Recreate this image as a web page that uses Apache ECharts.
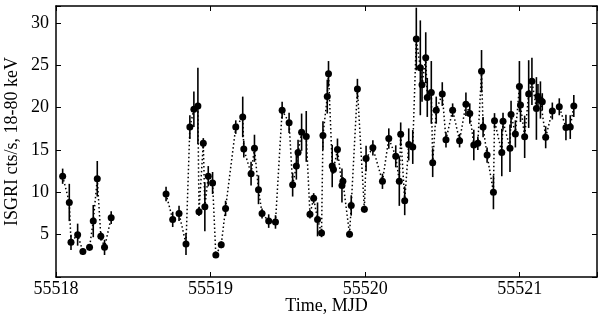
<!DOCTYPE html>
<html>
<head>
<meta charset="utf-8">
<script src="https://cdn.jsdelivr.net/npm/echarts@6/dist/echarts.min.js"></script>
<style>
  html, body { margin: 0; padding: 0; background: #fff; }
  #chart { width: 600px; height: 320px; }
</style>
</head>
<body>
<div id="chart"></div>
<script>
// ISGRI light curve, 18-80 keV
var mjd = [
  55518.043, 55518.086, 55518.097, 55518.140, 55518.174, 55518.217, 55518.241, 55518.267, 55518.290, 55518.314, 55518.357,
  55518.712, 55518.755, 55518.796, 55518.841, 55518.866, 55518.892, 55518.918, 55518.925, 55518.953, 55518.963,
  55518.985, 55519.013, 55519.034, 55519.069, 55519.097, 55519.163, 55519.208, 55519.215, 55519.262, 55519.284,
  55519.310, 55519.333, 55519.376, 55519.420, 55519.463, 55519.508, 55519.531, 55519.555, 55519.566, 55519.589,
  55519.619, 55519.643, 55519.667, 55519.692, 55519.718, 55519.727, 55519.755, 55519.763, 55519.787, 55519.795,
  55519.821, 55519.850, 55519.856, 55519.899, 55519.910, 55519.950, 55519.995, 55520.006, 55520.050, 55520.112,
  55520.153, 55520.198, 55520.221, 55520.230, 55520.256, 55520.282, 55520.308, 55520.331, 55520.357, 55520.368,
  55520.392, 55520.402, 55520.428, 55520.437, 55520.460, 55520.499, 55520.523, 55520.566, 55520.611, 55520.652,
  55520.677, 55520.703, 55520.729, 55520.753, 55520.763, 55520.789, 55520.830, 55520.837, 55520.884, 55520.892,
  55520.937, 55520.944, 55520.972, 55520.998, 55521.005, 55521.032, 55521.058, 55521.079, 55521.108, 55521.118,
  55521.134, 55521.146, 55521.168, 55521.211, 55521.256, 55521.299, 55521.327, 55521.350, 55521.560
];
var rate = [
  11.9, 8.8, 4.1, 5.0, 3.0, 3.5, 6.6, 11.6, 4.8, 3.5, 7.0,
  9.8, 6.8, 7.5, 3.9, 17.7, 19.8, 20.2, 7.7, 15.8, 8.3,
  11.9, 11.1, 2.6, 3.8, 8.1, 17.7, 18.9, 15.1, 12.2, 15.2,
  10.3, 7.5, 6.6, 6.5, 19.7, 18.2, 10.9, 13.1, 14.7, 17.1,
  16.6, 7.4, 9.3, 6.8, 5.2, 16.7, 21.3, 24.0, 13.1, 12.7,
  15.05, 10.8, 11.3, 5.05, 8.45, 22.2, 8.0, 14.0, 15.25, 11.3,
  16.35, 14.25, 11.3, 16.85, 9.0, 15.65, 15.35, 28.1, 24.7, 22.7,
  25.9, 21.2, 21.8, 13.5, 19.7, 21.6, 16.2, 19.7, 16.1, 20.4,
  19.3, 15.6, 15.8, 24.3, 17.7, 14.4, 10.0, 18.45, 14.7, 18.4,
  15.2, 19.2, 16.9, 22.5, 20.3, 16.55, 21.6, 23.1, 19.9, 21.3,
  20.9, 20.7, 16.5, 19.6, 20.1, 17.65, 17.7, 20.2, 20.0
];
var rateErr = [
  0.9, 2.2, 0.9, 1.3, 0.4, 0.4, 1.9, 2.1, 0.5, 0.9, 0.75,
  0.85, 0.9, 0.9, 1.3, 1.4, 2.1, 4.5, 0.5, 0.6, 2.9,
  1.2, 1.3, 0.3, 0.4, 0.9, 0.8, 2.4, 1.0, 1.4, 1.6,
  1.7, 0.6, 0.8, 0.8, 1.0, 1.2, 1.4, 1.6, 1.5, 2.2,
  3.0, 0.5, 0.6, 2.0, 0.5, 1.7, 2.0, 1.5, 2.5, 0.5,
  1.3, 2.0, 0.5, 0.4, 1.2, 1.2, 0.4, 1.5, 0.9, 0.9,
  1.2, 1.3, 2.9, 1.4, 1.7, 1.9, 2.0, 3.7, 5.6, 2.0,
  3.0, 2.3, 3.7, 1.7, 1.6, 1.4, 0.9, 0.8, 0.8, 1.4,
  1.2, 1.8, 0.8, 2.5, 1.2, 0.9, 2.0, 0.9, 2.8, 1.0,
  2.8, 1.6, 1.6, 3.0, 2.0, 2.5, 4.0, 2.8, 3.7, 1.5,
  2.2, 1.0, 1.3, 1.0, 1.0, 1.5, 1.4, 1.3, 0
];
var xTicks = [55518, 55519, 55520, 55521];
var yTicks = [5, 10, 15, 20, 25, 30];

var FONT = "'Liberation Serif', 'DejaVu Serif', serif";

// dotted connecting line, broken at the observation gap
var lineData = [];
for (var i = 0; i < mjd.length; i++) {
  if (i > 0 && mjd[i] - mjd[i - 1] > 0.2) lineData.push([mjd[i - 1] + 0.1, '-']);
  lineData.push([mjd[i], rate[i]]);
}
var errData = mjd.map(function (t, i) {
  return [t, rate[i] - rateErr[i], rate[i] + rateErr[i]];
});

var chart = echarts.init(document.getElementById('chart'));

var frameLine = { show: true, onZero: false, lineStyle: { color: '#000', width: 1.5 } };
var tickIn = { show: true, inside: true, length: 5, lineStyle: { color: '#000', width: 1 } };

chart.setOption({
  animation: false,
  backgroundColor: '#fff',
  grid: { left: 56, right: 3, top: 6, bottom: 43, outerBoundsMode: 'none' },
  xAxis: [{
    type: 'value', min: 55518, max: 55521.5, interval: 1,
    name: 'Time, MJD', nameLocation: 'middle', nameGap: 20, nameMoveOverlap: false,
    nameTextStyle: { fontFamily: FONT, fontSize: 18, color: '#000' },
    axisLine: frameLine, axisTick: tickIn, splitLine: { show: false },
    axisLabel: {
      margin: 3, fontFamily: FONT, fontSize: 18, color: '#000',
      formatter: function (v) { return xTicks.indexOf(v) >= 0 ? String(v) : ''; }
    }
  }, {
    type: 'value', position: 'top', min: 55518, max: 55521.5, interval: 1,
    axisLine: frameLine, axisTick: tickIn, axisLabel: { show: false }, splitLine: { show: false }
  }],
  yAxis: [{
    type: 'value', min: 0, max: 32, interval: 5,
    name: 'ISGRI cts/s, 18-80 keV', nameLocation: 'middle', nameGap: 35, nameMoveOverlap: false,
    nameTextStyle: { fontFamily: FONT, fontSize: 18, color: '#000' },
    axisLine: frameLine, axisTick: tickIn, splitLine: { show: false },
    axisLabel: {
      margin: 7, fontFamily: FONT, fontSize: 18, color: '#000',
      formatter: function (v) { return yTicks.indexOf(v) >= 0 ? String(v) : ''; }
    }
  }, {
    type: 'value', position: 'right', min: 0, max: 32, interval: 5,
    axisLine: frameLine, axisTick: tickIn, axisLabel: { show: false }, splitLine: { show: false }
  }],
  series: [{
    type: 'custom',
    data: errData,
    encode: { x: 0, y: [1, 2] },
    clip: true,
    z: 2,
    renderItem: function (params, api) {
      var p1 = api.coord([api.value(0), api.value(1)]);
      var p2 = api.coord([api.value(0), api.value(2)]);
      return {
        type: 'line',
        shape: { x1: p1[0], y1: p1[1], x2: p2[0], y2: p2[1] },
        style: { stroke: '#000', lineWidth: 1.6 }
      };
    }
  }, {
    type: 'line',
    data: lineData,
    clip: true,
    z: 3,
    symbol: 'circle',
    symbolSize: 7,
    showAllSymbol: true,
    itemStyle: { color: '#000' },
    lineStyle: { color: '#000', width: 1.5, type: [1.5, 2.5] }
  }]
});
</script>
</body>
</html>
